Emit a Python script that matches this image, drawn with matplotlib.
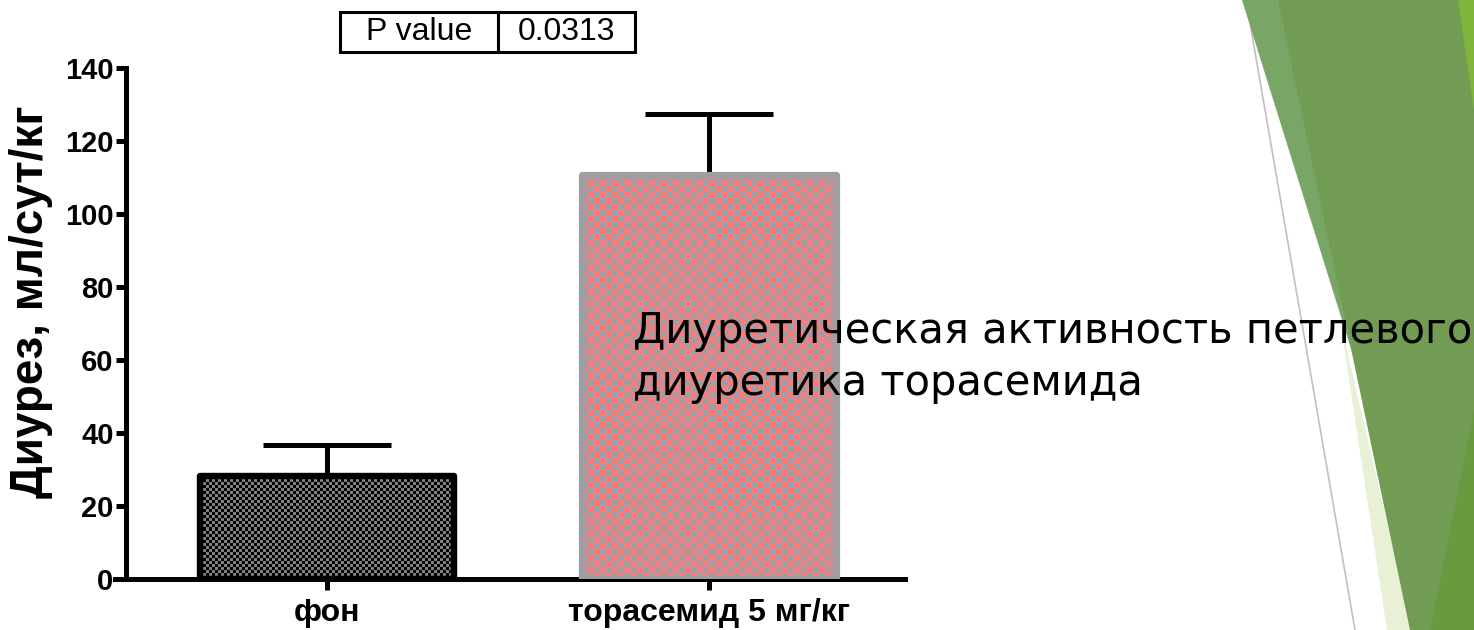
import numpy as np
import matplotlib
matplotlib.use("Agg")
import matplotlib.pyplot as plt
from matplotlib.colors import ListedColormap
from matplotlib.patches import Polygon
from matplotlib.lines import Line2D

# ---- data ----
categories = ["фон", "торасемид 5 мг/кг"]
means = [28.2, 110.7]
sem_upper = [8.5, 16.7]
y_ticks = [0, 20, 40, 60, 80, 100, 120, 140]
p_value_label = "P value"
p_value = "0.0313"
note = "Диуретическая активность петлевого\nдиуретика торасемида"
y_label = "Диурез, мл/сут/кг"

# bar styling: (edge colour, checker colour A, checker colour B, checker cell px)
bar_styles = [
    ("#000000", "#000000", "#808080", 3),
    ("#9e9ea3", "#ff7b7b", "#9e9ea3", 6),
]

W, H = 1474, 630
fig = plt.figure(figsize=(W / 100, H / 100), dpi=100)
fig.patch.set_facecolor("white")

# ---- slide decoration on the right ----
def px(points):
    return [(x / W, 1 - y / H) for x, y in points]

deco = [
    (px([(1340, 320), (1387, 630), (1412, 630)]), "#e8f0d6"),
    (px([(1242, 0), (1280, 0), (1352, 352)]), "#79a666"),
    (px([(1278, 0), (1474, 0), (1474, 630), (1410, 630)]), "#729c54"),
    (px([(1458, 0), (1474, 0), (1474, 110)]), "#80b43a"),
    (px([(1474, 410), (1474, 630), (1430, 630)]), "#6a9a3f"),
]
for pts, col in deco:
    fig.patches.append(Polygon(pts, closed=True, facecolor=col, edgecolor="none",
                               transform=fig.transFigure, zorder=0))
gx, gy = zip(*px([(1246, 0), (1355, 630)]))
fig.lines.append(Line2D(gx, gy, color="#c0c0c0", lw=1.2, transform=fig.transFigure, zorder=0))

# ---- chart ----
ax = fig.add_axes([115 / W, (H - 579) / H, 790 / W, 511 / H])
ax.set_facecolor("none")
x = np.arange(len(categories))
ax.set_xlim(-0.555, 1.513)
ax.set_ylim(0, 140)

bar_w = 0.665
bars = ax.bar(x, means, width=bar_w, facecolor="none", zorder=3)
for b, (ec, ca, cb, cell) in zip(bars, bar_styles):
    b.set_edgecolor(ec)
    b.set_linewidth(4.6 if ec == "#000000" else 5.2)
    b.set_joinstyle("round")

fig.canvas.draw()
for b, (ec, ca, cb, cell) in zip(bars, bar_styles):
    x0, y0 = b.get_x(), b.get_y()
    x1, y1 = x0 + b.get_width(), y0 + b.get_height()
    (p0x, p0y), (p1x, p1y) = ax.transData.transform([(x0, y0), (x1, y1)])
    nx = max(1, int(round(abs(p1x - p0x) / cell)))
    ny = max(1, int(round(abs(p1y - p0y) / cell)))
    checker = np.indices((ny, nx)).sum(axis=0) % 2
    im = ax.imshow(checker, cmap=ListedColormap([ca, cb]), extent=(x0, x1, y0, y1),
                   interpolation="nearest", aspect="auto", zorder=2)
    im.set_clip_path(b)

ax.errorbar(x, means, yerr=[np.zeros(len(means)), sem_upper], fmt="none",
            ecolor="black", elinewidth=3.6, capsize=46, capthick=3.6, zorder=1)

# axes styling
for s in ["top", "right"]:
    ax.spines[s].set_visible(False)
ax.spines["left"].set_position(("axes", 0.014))
ax.spines["left"].set_bounds(0, 140)
for s in ["left", "bottom"]:
    ax.spines[s].set_linewidth(3.6)
ax.set_yticks(y_ticks)
ax.set_xticks(x)
ax.set_xticklabels(categories)
ax.tick_params(axis="y", direction="out", length=7, width=3.6, pad=2)
ax.tick_params(axis="x", direction="out", length=8, width=3.6, pad=6)
for lab in ax.get_yticklabels():
    lab.set_fontfamily("Liberation Sans")
    lab.set_fontweight("bold")
    lab.set_fontsize(21)
for lab in ax.get_xticklabels():
    lab.set_fontfamily("Liberation Sans")
    lab.set_fontweight("bold")
    lab.set_fontsize(23)
ax.set_ylabel(y_label, fontfamily="Liberation Sans", fontweight="bold", fontsize=33)
ax.yaxis.set_label_coords(-0.078, 0.542)

# P value box
tbl = ax.table(cellText=[[p_value_label, p_value]], colWidths=[0.536, 0.464],
               cellLoc="center", bbox=[0.285, 1.031, 0.373, 0.079])
tbl.auto_set_font_size(False)
tbl.set_fontsize(23)
for cell in tbl.get_celld().values():
    cell.set_linewidth(2.2)
    cell.get_text().set_fontfamily("Liberation Sans")
tbl.set_zorder(5)

# annotation text
fig.text(633 / W, 1 - 310 / H, note, fontfamily="DejaVu Sans", fontsize=30,
         va="top", ha="left", linespacing=1.3, zorder=10)

fig.savefig("out.png", dpi=100)
